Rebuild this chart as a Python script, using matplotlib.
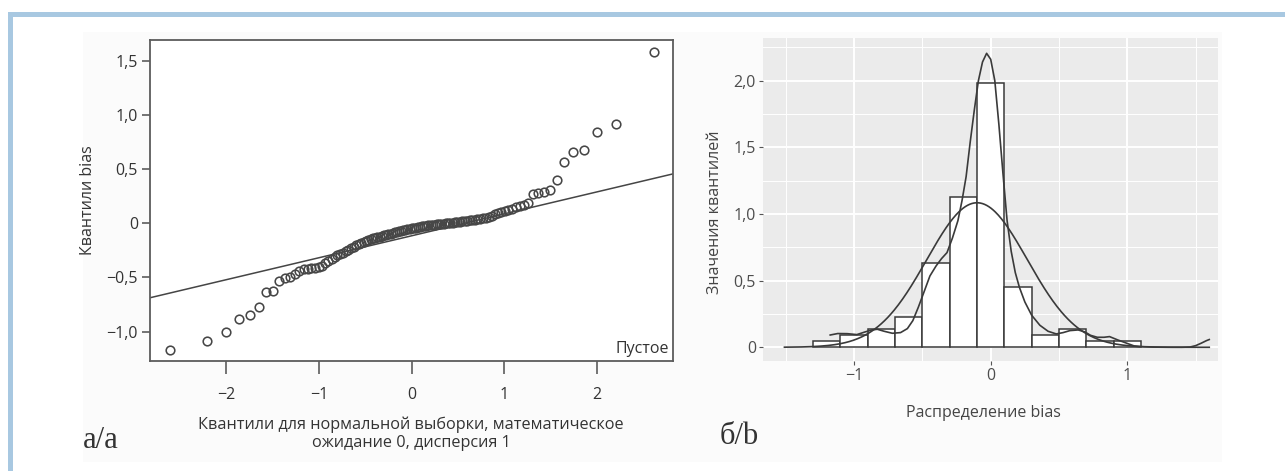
import matplotlib
matplotlib.use("Agg")
import matplotlib.pyplot as plt
import numpy as np
from statistics import NormalDist
from matplotlib.patches import Rectangle

# ---------------- data ----------------
# sorted bias sample (n = 111) shown in the normal Q-Q plot
bias_sorted = [
    -1.170, -1.085, -1.005, -0.887, -0.843, -0.774, -0.635, -0.628, -0.532, -0.506,
    -0.495, -0.470, -0.440, -0.425, -0.418, -0.414, -0.410, -0.405, -0.392, -0.368,
    -0.348, -0.332, -0.313, -0.297, -0.283, -0.270, -0.257, -0.243, -0.231, -0.217,
    -0.204, -0.191, -0.180, -0.170, -0.162, -0.154, -0.147, -0.140, -0.134, -0.129,
    -0.124, -0.117, -0.110, -0.105, -0.100, -0.095, -0.090, -0.085, -0.079, -0.073,
    -0.068, -0.063, -0.059, -0.055, -0.051, -0.047, -0.043, -0.039, -0.035, -0.032,
    -0.029, -0.025, -0.022, -0.019, -0.016, -0.014, -0.012, -0.010, -0.008, -0.005,
    -0.003, 0.000, 0.002, 0.005, 0.007, 0.010, 0.013, 0.016, 0.019, 0.022,
    0.025, 0.027, 0.029, 0.032, 0.035, 0.040, 0.045, 0.053, 0.062, 0.071,
    0.081, 0.092, 0.103, 0.114, 0.124, 0.134, 0.146, 0.158, 0.172, 0.188,
    0.272, 0.282, 0.292, 0.305, 0.403, 0.561, 0.653, 0.680, 0.840, 0.918,
    1.583,
]
qq_line_intercept = -0.1155
qq_line_slope = 0.2023

qq_xticks = [-2, -1, 0, 1, 2]
qq_xticklabels = ["\u22122", "\u22121", "0", "1", "2"]
qq_yticks = [-1.0, -0.5, 0.0, 0.5, 1.0, 1.5]
qq_yticklabels = ["\u22121,0", "\u22120,5", "0", "0,5", "1,0", "1,5"]

# histogram of bias (density scale)
hist_edges = [-1.3, -1.1, -0.9, -0.7, -0.5, -0.3, -0.1, 0.1, 0.3, 0.5, 0.7, 0.9, 1.1]
hist_density = [0.047, 0.090, 0.135, 0.225, 0.630, 1.130, 1.985, 0.450, 0.090, 0.135, 0.047, 0.047]

# kernel density estimate of bias
kde_x = [-1.175, -1.12, -1.05, -0.98, -0.92, -0.87, -0.83, -0.78, -0.72, -0.66,
         -0.61, -0.57, -0.53, -0.49, -0.445, -0.40, -0.36, -0.32, -0.28, -0.24,
         -0.21, -0.18, -0.15, -0.12, -0.09, -0.06, -0.03, 0.0, 0.03, 0.06,
         0.09, 0.12, 0.15, 0.18, 0.21, 0.25, 0.30, 0.36, 0.42, 0.48,
         0.53, 0.58, 0.64, 0.69, 0.73, 0.78, 0.83, 0.87, 0.93, 0.97,
         1.01, 1.05, 1.10, 1.20, 1.30, 1.40, 1.46, 1.50, 1.54, 1.58, 1.60]
kde_y = [0.092, 0.103, 0.102, 0.095, 0.115, 0.130, 0.135, 0.120, 0.105, 0.110,
         0.140, 0.200, 0.300, 0.410, 0.535, 0.610, 0.665, 0.710, 0.820, 0.950,
         1.100, 1.280, 1.540, 1.780, 2.000, 2.140, 2.205, 2.160, 2.000, 1.670,
         1.300, 0.950, 0.720, 0.560, 0.450, 0.340, 0.240, 0.165, 0.120, 0.100,
         0.110, 0.125, 0.130, 0.115, 0.090, 0.075, 0.075, 0.080, 0.055, 0.040,
         0.025, 0.010, 0.004, 0.001, 0.000, 0.000, 0.002, 0.012, 0.030, 0.050, 0.058]

# fitted normal density
norm_mean = -0.10
norm_sd = 0.368
norm_range = (-1.51, 1.60)

hist_xticks = [-1, 0, 1]
hist_xticklabels = ["\u22121", "0", "1"]
hist_yticks = [0.0, 0.5, 1.0, 1.5, 2.0]
hist_yticklabels = ["0", "0,5", "1,0", "1,5", "2,0"]

# ---------------- figure ----------------
W, H = 1285, 471
fig = plt.figure(figsize=(W / 100, H / 100), dpi=100)
fig.patch.set_facecolor("white")

SANS = ["Open Sans", "DejaVu Sans"]
SERIF = ["Liberation Serif", "DejaVu Serif"]


def fbox(x0, y0, x1, y1):
    """pixel box (top-left origin) -> figure fraction rect"""
    return [x0 / W, 1 - y1 / H, (x1 - x0) / W, (y1 - y0) / H]


def add_rect(x0, y0, x1, y1, color, z=0):
    l, b, w, h = fbox(x0, y0, x1, y1)
    fig.patches.append(Rectangle((l, b), w, h, transform=fig.transFigure,
                                 facecolor=color, edgecolor="none", zorder=z))


# frame of the figure
add_rect(83, 32, 1222, 462, "#fbfbfb", z=-2)
add_rect(8, 12, W, 17, "#a8c8e1", z=-1)
add_rect(8, 12, 13, H, "#a8c8e1", z=-1)

# ---------------- (a) normal Q-Q plot ----------------
ax1 = fig.add_axes(fbox(150.4, 40, 672.8, 361))
ax1.set_zorder(3)
ax1.set_facecolor("white")
n = len(bias_sorted)
nd = NormalDist()
theo = [nd.inv_cdf((i - 0.5) / n) for i in range(1, n + 1)]
ax1.plot(theo, bias_sorted, linestyle="none", marker="o", markersize=6.2,
         markerfacecolor="none", markeredgecolor="#474747", markeredgewidth=1.15,
         zorder=3)
ax1.set_xlim(-2.82, 2.82)
ax1.set_ylim(-1.27, 1.69)
lx = np.array(ax1.get_xlim())
ax1.plot(lx, qq_line_intercept + qq_line_slope * lx, color="#454545", lw=1.1, zorder=2)

for s in ax1.spines.values():
    s.set_color("#5c5c5c")
    s.set_linewidth(1.3)
ax1.set_xticks(qq_xticks)
ax1.set_xticklabels(qq_xticklabels)
ax1.set_yticks(qq_yticks)
ax1.set_yticklabels(qq_yticklabels)
ax1.tick_params(axis="x", length=9, width=1.2, color="#5c5c5c", pad=10,
                labelsize=11.5, labelcolor="#333333")
ax1.tick_params(axis="y", length=6, width=1.2, color="#5c5c5c", pad=3,
                labelsize=11.5, labelcolor="#333333")
for t in ax1.get_xticklabels() + ax1.get_yticklabels():
    t.set_family(SANS)
ax1.set_ylabel("Квантили bias", family=SANS, fontsize=11.5, color="#333333")
ax1.yaxis.set_label_coords(-0.104, 0.5)
ax1.text(0.993, 0.012, "Пустое", transform=ax1.transAxes, ha="right", va="bottom",
         family=SANS, fontsize=11.5, color="#333333")
fig.text(411 / W, 1 - 434 / H,
         "Квантили для нормальной выборки, математическое\nожидание 0, дисперсия 1",
         ha="center", va="center", family=SANS, fontsize=11.7, color="#333333",
         linespacing=1.2)
fig.text(83 / W, 1 - 440 / H, "а/а", ha="left", va="center", family=SERIF,
         fontsize=22, color="#333333")

# ---------------- (b) histogram with density curves ----------------
ax2 = fig.add_axes(fbox(763, 38, 1218, 361))
ax2.set_zorder(3)
ax2.set_facecolor("#ebebeb")
ax2.set_xlim(-1.667, 1.664)
ax2.set_ylim(-0.103, 2.32)
ax2.set_xticks(hist_xticks)
ax2.set_xticklabels(hist_xticklabels)
ax2.set_yticks(hist_yticks)
ax2.set_yticklabels(hist_yticklabels)
ax2.set_xticks([-1.5, -0.5, 0.5, 1.5], minor=True)
ax2.set_yticks([0.25, 0.75, 1.25, 1.75, 2.25], minor=True)
ax2.grid(which="major", color="white", linewidth=1.4)
ax2.grid(which="minor", color="white", linewidth=0.7)
ax2.set_axisbelow(True)
for s in ax2.spines.values():
    s.set_visible(False)
ax2.tick_params(which="major", length=3, width=0.8, color="#555555", pad=2,
                labelsize=11.5, labelcolor="#4d4d4d")
ax2.tick_params(which="minor", length=0)
for t in ax2.get_xticklabels() + ax2.get_yticklabels():
    t.set_family(SANS)

widths = np.diff(hist_edges)
ax2.bar(hist_edges[:-1], hist_density, width=widths, align="edge",
        facecolor="white", edgecolor="#3a3a3a", linewidth=1.1, zorder=2)

xs = np.linspace(norm_range[0], norm_range[1], 400)
pdf = np.exp(-0.5 * ((xs - norm_mean) / norm_sd) ** 2) / (norm_sd * np.sqrt(2 * np.pi))
ax2.plot(xs, pdf, color="#3a3a3a", lw=1.2, zorder=3)
ax2.plot(kde_x, kde_y, color="#3a3a3a", lw=1.2, zorder=3, solid_joinstyle="round")

ax2.set_xlabel("Распределение bias", family=SANS, fontsize=11.5, color="#444444")
ax2.xaxis.set_label_coords(0.485, -0.135)
ax2.set_ylabel("Значения квантилей", family=SANS, fontsize=11.5, color="#444444")
ax2.yaxis.set_label_coords(-0.088, 0.46)
fig.text(720 / W, 1 - 437 / H, "б/b", ha="left", va="center", family=SERIF,
         fontsize=22, color="#333333")

fig.savefig("out.png", dpi=100)
